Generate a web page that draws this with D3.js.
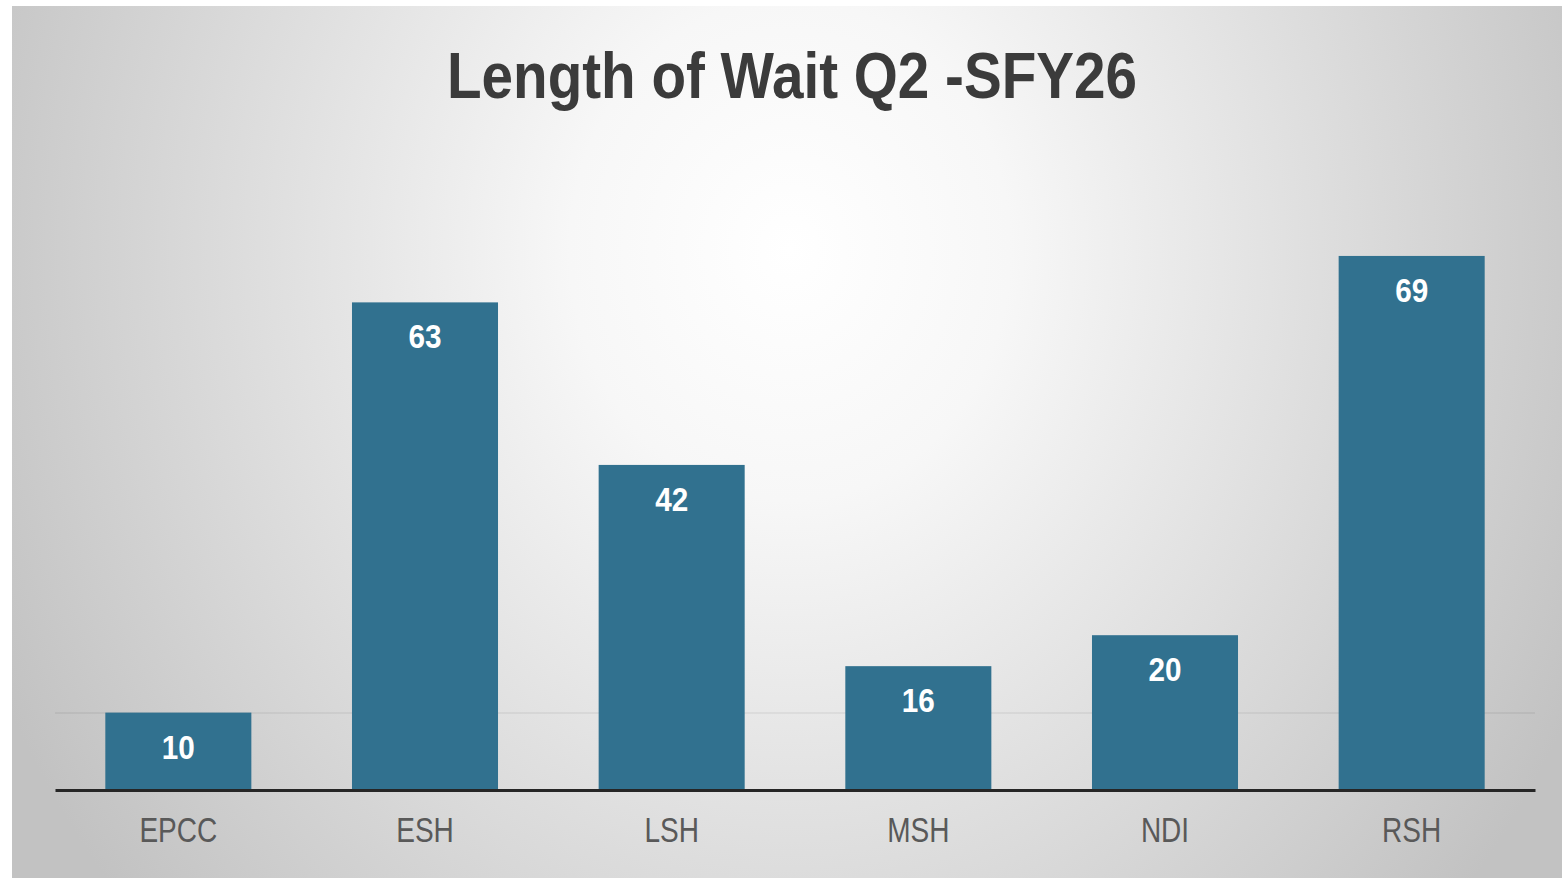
<!DOCTYPE html>
<html>
<head>
<meta charset="utf-8">
<script src="https://cdn.jsdelivr.net/npm/d3@7"></script>
<style>
  html, body { margin: 0; padding: 0; background: #ffffff; }
  svg { display: block; }
</style>
</head>
<body>
<svg id="chart" width="1562" height="878"></svg>
<script>
// ---- data ----
const categories = ["EPCC", "ESH", "LSH", "MSH", "NDI", "RSH"];
const waitValues = [10, 63, 42, 16, 20, 69];
const gridTicks = [10];
const chartTitle = "Length of Wait Q2 -SFY26";

// ---- layout ----
const W = 1562, H = 878;
const svg = d3.select("#chart");

const defs = svg.append("defs");
const grad = defs.append("radialGradient")
  .attr("id", "bg")
  .attr("gradientUnits", "userSpaceOnUse")
  .attr("cx", 0).attr("cy", 0).attr("r", 1)
  .attr("gradientTransform", "translate(790,250) scale(880,1000)");
grad.append("stop").attr("offset", 0).attr("stop-color", "#ffffff");
grad.append("stop").attr("offset", 0.25).attr("stop-color", "#f7f7f7");
grad.append("stop").attr("offset", 1).attr("stop-color", "#c2c2c2");

svg.append("rect")
  .attr("x", 12).attr("y", 6)
  .attr("width", W - 12).attr("height", H - 6)
  .attr("fill", "url(#bg)");

const baseY = 790;
const x = d3.scaleBand()
  .domain(categories)
  .range([55, 1535])
  .paddingInner(0.408)
  .paddingOuter(0.204);

const y = d3.scaleLinear()
  .domain([0, 80])
  .range([baseY, baseY - 80 * 7.74]);

// gridline
const grid = svg.append("g")
  .attr("transform", `translate(55,0)`)
  .call(d3.axisLeft(y).tickValues(gridTicks).tickSize(-1480).tickFormat(""));
grid.select(".domain").remove();
grid.selectAll(".tick line").attr("stroke", "rgba(0,0,0,0.05)").attr("stroke-width", 2);

// bars
svg.append("g").selectAll("rect")
  .data(categories)
  .join("rect")
  .attr("x", d => x(d))
  .attr("y", (d, i) => y(waitValues[i]))
  .attr("width", x.bandwidth())
  .attr("height", (d, i) => baseY - y(waitValues[i]))
  .attr("fill", "#31718f");

// value labels
svg.append("g").selectAll("text")
  .data(categories)
  .join("text")
  .attr("transform", (d, i) => `translate(${x(d) + x.bandwidth() / 2},${y(waitValues[i]) + 46}) scale(0.9,1)`)
  .attr("text-anchor", "middle")
  .attr("font-family", "'Liberation Sans', Arial, sans-serif")
  .attr("font-weight", "bold")
  .attr("font-size", 33)
  .attr("fill", "#ffffff")
  .text((d, i) => waitValues[i]);

// x axis
const xAxis = svg.append("g")
  .attr("transform", `translate(0,${baseY})`)
  .call(d3.axisBottom(x).tickSize(0).tickPadding(27));
xAxis.select(".domain").attr("stroke", "#262626").attr("stroke-width", 3);
xAxis.selectAll(".tick text")
  .attr("font-family", "'Liberation Sans', Arial, sans-serif")
  .attr("font-size", 35)
  .attr("fill", "#595959")
  .attr("transform", "scale(0.8,1)");

// title
svg.append("text")
  .attr("x", 792).attr("y", 98)
  .attr("text-anchor", "middle")
  .attr("font-family", "'Liberation Sans', Arial, sans-serif")
  .attr("font-weight", "bold")
  .attr("font-size", 65)
  .attr("fill", "#3b3b3b")
  .attr("textLength", 690)
  .attr("lengthAdjust", "spacingAndGlyphs")
  .text(chartTitle);
</script>
</body>
</html>
